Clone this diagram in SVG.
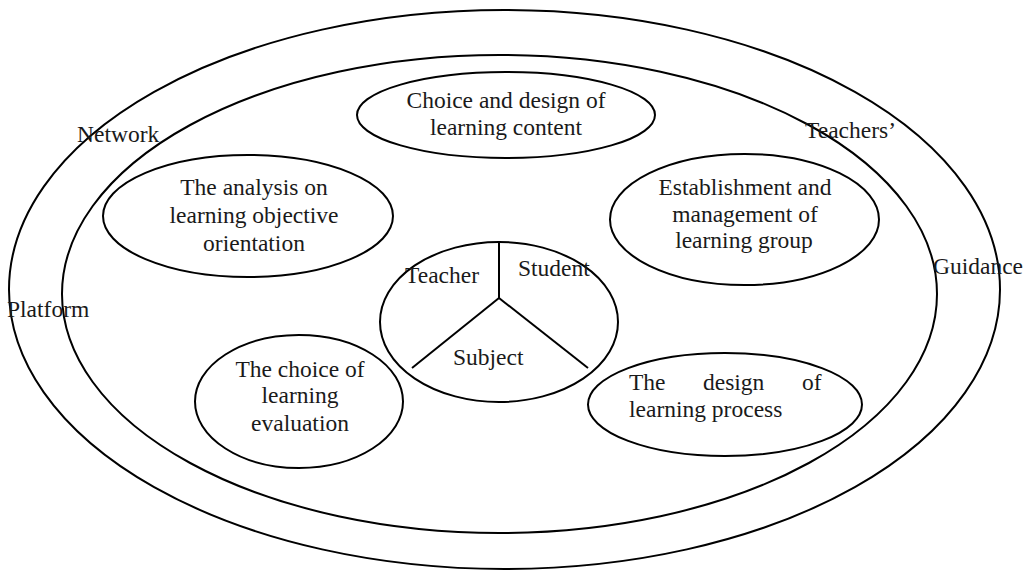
<svg xmlns="http://www.w3.org/2000/svg" width="1024" height="570" viewBox="0 0 1024 570">
  <style>
    .ring { fill: none; stroke: #000; stroke-width: 2; }
    .node { fill: #fff; stroke: #000; stroke-width: 2; }
    .line { fill: none; stroke: #000; stroke-width: 2; }
    text { font-family: "Liberation Serif", "Times New Roman", serif; font-size: 23.5px; fill: #1a1a1a; }
    .c { text-anchor: middle; }
  </style>
  <rect width="1024" height="570" fill="#fff"/>
  <g id="outer-ring">
    <ellipse class="ring" cx="504.5" cy="289.5" rx="495.5" ry="279.5"/>
  </g>
  <g id="inner-ring">
    <ellipse class="ring" cx="499.5" cy="294" rx="437.5" ry="239"/>
  </g>
  <g id="ring-labels">
    <text x="77" y="142">Network</text>
    <text x="7" y="317">Platform</text>
    <text x="805" y="138">Teachers’</text>
    <text x="933" y="274">Guidance</text>
  </g>
  <g id="content">
    <ellipse class="node" cx="506" cy="115" rx="149" ry="43"/>
    <text class="c" x="506" y="108">Choice and design of</text>
    <text class="c" x="506" y="135">learning content</text>
  </g>
  <g id="objective">
    <ellipse class="node" cx="248" cy="216" rx="145" ry="61"/>
    <text class="c" x="254" y="195">The analysis on</text>
    <text class="c" x="254" y="223">learning objective</text>
    <text class="c" x="254" y="251">orientation</text>
  </g>
  <g id="group">
    <ellipse class="node" cx="744.5" cy="219.5" rx="134.5" ry="65.5"/>
    <text class="c" x="745" y="195">Establishment and</text>
    <text class="c" x="745" y="222">management of</text>
    <text class="c" x="744" y="248">learning group</text>
  </g>
  <g id="evaluation">
    <ellipse class="node" cx="299" cy="401.5" rx="104" ry="66.5"/>
    <text class="c" x="300" y="377">The choice of</text>
    <text class="c" x="300" y="403">learning</text>
    <text class="c" x="300" y="431">evaluation</text>
  </g>
  <g id="process">
    <ellipse class="node" cx="725" cy="404.5" rx="137" ry="51.5"/>
    <text y="390"><tspan x="629">The</tspan><tspan x="703">design</tspan><tspan x="802">of</tspan></text>
    <text x="629" y="417">learning process</text>
  </g>
  <g id="core">
    <ellipse class="node" cx="499" cy="322" rx="119" ry="80"/>
    <line x1="604" y1="253" x2="609" y2="265" stroke="#fff" stroke-width="4"/>
    <text x="405" y="283">Teacher</text>
    <text x="518" y="276">Student</text>
    <text x="453" y="365">Subject</text>
  </g>
  <g id="connectors">
    <line class="line" x1="499" y1="242" x2="499" y2="298"/>
    <line class="line" x1="499" y1="298" x2="412" y2="368"/>
    <line class="line" x1="499" y1="298" x2="588" y2="368"/>
  </g>
</svg>
